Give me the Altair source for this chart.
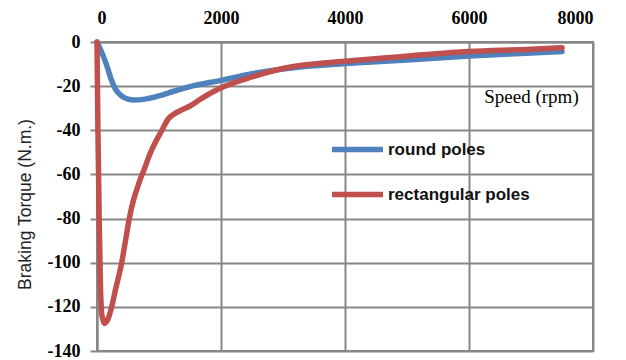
import altair as alt
import pandas as pd

round_speed = [0, 80, 150, 230, 300, 400, 500, 600, 750, 1000, 1250, 1500, 2000, 2500, 3000, 3500, 4000, 5000, 6000, 7000, 7500]
round_torque = [0, -5, -10, -17, -21.5, -24.5, -25.9, -26.3, -26.0, -24.4, -22.2, -20.2, -17.4, -14.4, -12.2, -10.8, -9.8, -8.2, -6.4, -5.0, -4.3]

rect_speed = [0, 15, 35, 55, 80, 120, 170, 237, 300, 398, 460, 521, 589, 640, 700, 758, 850, 950, 1048, 1145, 1250, 1387, 1500, 1661, 1950, 2500, 3145, 3500, 4000, 4726, 6000, 7000, 7500]
rect_torque = [0, -40, -80, -110, -124, -127.5, -126, -120, -112, -100, -90, -80, -71.6, -67, -62, -58, -51, -45, -40, -35, -32.5, -30.5, -29, -26, -21.4, -15.8, -11.2, -10, -8.7, -7, -4.3, -3.3, -2.6]

series_names = ["round poles", "rectangular poles"]
series_colors = ["#4F81BD", "#C0504D"]
x_ticks = [0, 2000, 4000, 6000, 8000]
y_ticks = [0, -20, -40, -60, -80, -100, -120, -140]

df = pd.concat([
    pd.DataFrame({"speed": round_speed, "torque": round_torque, "series": series_names[0]}),
    pd.DataFrame({"speed": rect_speed, "torque": rect_torque, "series": series_names[1]}),
])

grid_gray = "#878787"

x_enc = alt.X(
    "speed:Q",
    scale=alt.Scale(domain=[0, 8000], nice=False),
    axis=alt.Axis(
        orient="top", values=x_ticks, ticks=False, labelExpr="datum.value + ''",
        labelFont="Liberation Serif", labelFontWeight="bold", labelFontSize=18, labelColor="#000000",
        labelPadding=15,
        title="Speed (rpm)", titleFont="Liberation Serif", titleFontWeight="normal", titleFontSize=19,
        titleColor="#000000", titleX=434, titleY=60, titleAlign="center", titleBaseline="alphabetic",
        domainColor=grid_gray, domainWidth=2, gridColor=grid_gray, gridWidth=2, gridOpacity=1,
    ),
)
y_enc = alt.Y(
    "torque:Q",
    scale=alt.Scale(domain=[-140, 0], nice=False),
    axis=alt.Axis(
        values=y_ticks, tickSize=7, tickColor=grid_gray, tickWidth=2, labelExpr="datum.value + ''",
        labelFont="Liberation Serif", labelFontWeight="bold", labelFontSize=18, labelColor="#000000",
        labelPadding=10,
        title="Braking Torque (N.m.)", titleFont="Liberation Sans", titleFontWeight="normal", titleFontSize=17.5,
        titleColor="#222222", titleX=-71.5, titleY=162, titleAngle=-90, titleAlign="center", titleBaseline="middle",
        domainColor=grid_gray, domainWidth=2, gridColor=grid_gray, gridWidth=2, gridOpacity=1,
    ),
)
color_enc = alt.Color(
    "series:N",
    scale=alt.Scale(domain=series_names, range=series_colors),
    legend=alt.Legend(
        orient="none", legendX=232, legendY=79, title=None,
        symbolType="stroke", symbolSize=2601, symbolStrokeWidth=5.5,
        labelFont="Liberation Sans", labelFontWeight="bold", labelFontSize=17, labelColor="#111111",
        labelOffset=2, rowPadding=5,
    ),
)

base = alt.Chart(df).mark_line(strokeWidth=5.5, strokeCap="round", strokeJoin="round", interpolate="monotone")

blue = base.transform_filter(alt.datum.series == series_names[0]).encode(x=x_enc, y=y_enc, color=color_enc)
red = base.transform_filter(alt.datum.series == series_names[1]).encode(x=x_enc, y=y_enc, color=color_enc)

chart = alt.layer(blue, red).properties(
    width=496, height=309,
    autosize=alt.AutoSizeParams(type="none"),
    padding={"left": 89, "top": 34, "right": 20, "bottom": 9},
).configure_view(stroke=grid_gray, strokeWidth=2)

chart.save("out.html", embed_options={"renderer": "svg", "actions": False})
